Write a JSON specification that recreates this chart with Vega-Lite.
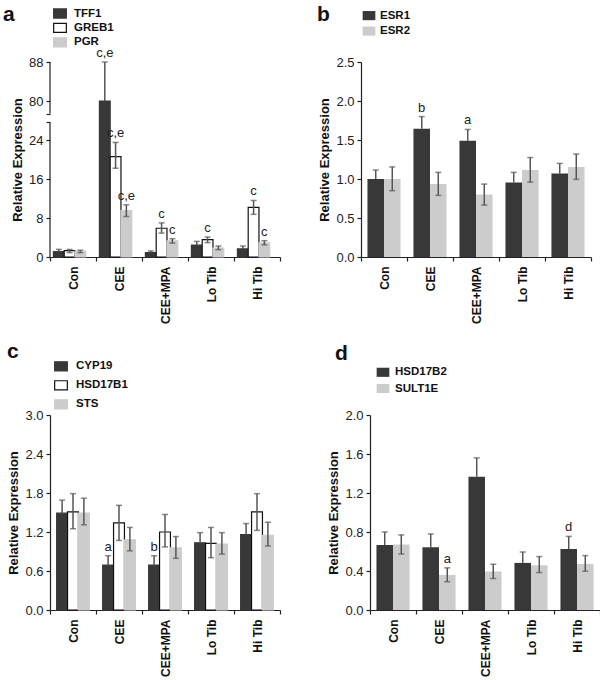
{
  "$schema": "https://vega.github.io/schema/vega-lite/v6.json",
  "padding": {"left": 3, "top": 4, "right": 0, "bottom": 0},
  "config": {
    "view": {"stroke": null},
    "font": "Liberation Sans",
    "axis": {"grid": false, "domainColor": "#222", "tickColor": "#222", "labelColor": "#222", "titleColor": "#111", "labelFont": "Liberation Sans", "titleFont": "Liberation Sans", "domainWidth": 1.2, "tickWidth": 1.2, "labelOverlap": false},
    "axisX": {"labelAngle": -90, "labelFontSize": 12, "labelFontWeight": "bold", "labelColor": "#111", "tickSize": 4, "labelPadding": 5},
    "axisY": {"labelFontSize": 13, "tickSize": 4, "labelPadding": 3, "titleFontSize": 13, "titleFontWeight": "bold", "titlePadding": 4, "labelOverlap": false, "title": "Relative Expression"},
    "legend": {"orient": "none", "symbolType": "M-1,-0.72H1V0.72H-1Z", "symbolSize": 161, "labelFontSize": 11.5, "labelFontWeight": "bold", "labelColor": "#111", "symbolStrokeWidth": 1.2, "labelFont": "Liberation Sans"}
  },
  "resolve": {
    "scale": {"x": "independent", "y": "independent", "xOffset": "independent", "fill": "independent", "stroke": "independent"},
    "axis": {"x": "independent", "y": "independent"},
    "legend": {"fill": "independent", "stroke": "independent"}
  },
  "vconcat": [
    {
      "spacing": 36,
      "resolve": {
        "scale": {"x": "independent", "y": "independent", "xOffset": "independent", "fill": "independent", "stroke": "independent"},
        "axis": {"x": "independent", "y": "independent"},
        "legend": {"fill": "independent", "stroke": "independent"}
      },
      "hconcat": [
        {
          "width": 230, "height": 195,
          "data": {"values": [
            {"group": "Con", "gene": "TFF1", "value": 1.1, "lo": 1.1, "hi": 1.57, "note": ""},
            {"group": "Con", "gene": "GREB1", "value": 1.3, "lo": 0.9, "hi": 1.55, "note": ""},
            {"group": "Con", "gene": "PGR", "value": 1.15, "lo": 0.9, "hi": 1.4, "note": ""},
            {"group": "CEE", "gene": "TFF1", "value": 80, "lo": 80, "hi": 88, "note": "c,e"},
            {"group": "CEE", "gene": "GREB1", "value": 20.6, "lo": 18.2, "hi": 23.5, "note": "c,e"},
            {"group": "CEE", "gene": "PGR", "value": 9.5, "lo": 8.3, "hi": 10.7, "note": "c,e"},
            {"group": "CEE+MPA", "gene": "TFF1", "value": 0.9, "lo": 0.9, "hi": 1.25, "note": ""},
            {"group": "CEE+MPA", "gene": "GREB1", "value": 5.9, "lo": 4.9, "hi": 7.0, "note": "c"},
            {"group": "CEE+MPA", "gene": "PGR", "value": 3.3, "lo": 2.85, "hi": 3.75, "note": "c"},
            {"group": "Lo Tib", "gene": "TFF1", "value": 2.45, "lo": 2.45, "hi": 3.2, "note": ""},
            {"group": "Lo Tib", "gene": "GREB1", "value": 3.55, "lo": 2.95, "hi": 4.1, "note": "c"},
            {"group": "Lo Tib", "gene": "PGR", "value": 1.85, "lo": 1.5, "hi": 2.25, "note": ""},
            {"group": "Hi Tib", "gene": "TFF1", "value": 1.65, "lo": 1.65, "hi": 2.25, "note": ""},
            {"group": "Hi Tib", "gene": "GREB1", "value": 10.2, "lo": 8.75, "hi": 11.6, "note": "c"},
            {"group": "Hi Tib", "gene": "PGR", "value": 2.9, "lo": 2.5, "hi": 3.35, "note": "c"}
          ]},
          "encoding": {
            "x": {"field": "group", "type": "nominal", "sort": ["Con", "CEE", "CEE+MPA", "Lo Tib", "Hi Tib"], "scale": {"paddingInner": 0, "paddingOuter": 0}, "axis": {"tickBand": "extent", "title": null}}
          },
          "layer": [
            {
              "mark": {"type": "bar", "strokeWidth": 1.2},
              "encoding": {
                "xOffset": {"field": "gene", "sort": ["TFF1", "GREB1", "PGR"], "scale": {"paddingInner": 0, "paddingOuter": 0.635, "align": 0.25}},
                "y": {"field": "value", "type": "quantitative", "title": "Relative Expression", "scale": {"domain": [0, 24, 80, 88], "range": [195, 78, 39, 0], "nice": false, "zero": false}, "axis": {"domain": false, "labelOverlap": false, "values": [0, 8, 16, 24, 49.2, 61.8, 80, 88], "labelExpr": "datum.value == 49.2 || datum.value == 61.8 ? '' : datum.label"}},
                "fill": {"field": "gene", "type": "nominal", "scale": {"domain": ["TFF1", "GREB1", "PGR"], "range": ["#383838", "#ffffff", "#cccccc"]}, "legend": {"title": null, "legendX": 3, "legendY": -55.5, "rowPadding": 0.4, "labelOffset": 7}},
                "stroke": {"field": "gene", "type": "nominal", "scale": {"domain": ["TFF1", "GREB1", "PGR"], "range": ["#383838", "#111111", "#cccccc"]}, "legend": {"title": null, "legendX": 3, "legendY": -55.5, "rowPadding": 0.4, "labelOffset": 7}}
              }
            },
            {
              "mark": {"type": "rule", "color": "#555", "strokeWidth": 1.5},
              "encoding": {
                "xOffset": {"field": "gene", "sort": ["TFF1", "GREB1", "PGR"]},
                "y": {"field": "hi", "type": "quantitative", "title": "Relative Expression", "axis": {"domain": false, "labelOverlap": false, "values": [0, 8, 16, 24, 49.2, 61.8, 80, 88], "labelExpr": "datum.value == 49.2 || datum.value == 61.8 ? '' : datum.label"}},
                "y2": {"field": "lo"}
              }
            },
            {
              "mark": {"type": "tick", "color": "#555", "thickness": 1.5, "size": 6},
              "encoding": {
                "xOffset": {"field": "gene", "sort": ["TFF1", "GREB1", "PGR"]},
                "y": {"field": "hi", "type": "quantitative", "title": "Relative Expression", "axis": {"domain": false, "labelOverlap": false, "values": [0, 8, 16, 24, 49.2, 61.8, 80, 88], "labelExpr": "datum.value == 49.2 || datum.value == 61.8 ? '' : datum.label"}}
              }
            },
            {
              "transform": [{"filter": "datum.lo < datum.value"}],
              "mark": {"type": "tick", "color": "#555", "thickness": 1.5, "size": 6},
              "encoding": {
                "xOffset": {"field": "gene", "sort": ["TFF1", "GREB1", "PGR"]},
                "y": {"field": "lo", "type": "quantitative", "title": "Relative Expression", "axis": {"domain": false, "labelOverlap": false, "values": [0, 8, 16, 24, 49.2, 61.8, 80, 88], "labelExpr": "datum.value == 49.2 || datum.value == 61.8 ? '' : datum.label"}}
              }
            },
            {
              "transform": [{"filter": "datum.note != ''"}],
              "mark": {"type": "text", "dy": -5, "baseline": "alphabetic", "fontSize": 13, "color": "#222"},
              "encoding": {
                "xOffset": {"field": "gene", "sort": ["TFF1", "GREB1", "PGR"]},
                "y": {"field": "hi", "type": "quantitative", "title": "Relative Expression", "axis": {"domain": false, "labelOverlap": false, "values": [0, 8, 16, 24, 49.2, 61.8, 80, 88], "labelExpr": "datum.value == 49.2 || datum.value == 61.8 ? '' : datum.label"}},
                "text": {"field": "note"}
              }
            },
            {
              "data": {"values": [{}]},
              "mark": {"type": "rule", "color": "#222", "strokeWidth": 1.2},
              "encoding": {
                "x": {"datum": "Con", "bandPosition": 0},
                "y": {"datum": 0, "type": "quantitative", "title": "Relative Expression", "axis": {"domain": false, "labelOverlap": false, "values": [0, 8, 16, 24, 49.2, 61.8, 80, 88], "labelExpr": "datum.value == 49.2 || datum.value == 61.8 ? '' : datum.label"}},
                "y2": {"datum": 49.2}
              }
            },
            {
              "data": {"values": [{}]},
              "mark": {"type": "rule", "color": "#222", "strokeWidth": 1.2},
              "encoding": {
                "x": {"datum": "Con", "bandPosition": 0},
                "y": {"datum": 61.8, "type": "quantitative", "title": "Relative Expression", "axis": {"domain": false, "labelOverlap": false, "values": [0, 8, 16, 24, 49.2, 61.8, 80, 88], "labelExpr": "datum.value == 49.2 || datum.value == 61.8 ? '' : datum.label"}},
                "y2": {"datum": 88}
              }
            },
            {
              "data": {"values": [{}]},
              "mark": {"type": "text", "text": "a", "fontSize": 21, "fontWeight": "bold", "align": "left", "baseline": "alphabetic", "dx": -47, "dy": -40.7, "color": "#111"},
              "encoding": {
                "x": {"datum": "Con", "bandPosition": 0},
                "y": {"datum": 88, "type": "quantitative", "title": "Relative Expression", "axis": {"domain": false, "labelOverlap": false, "values": [0, 8, 16, 24, 49.2, 61.8, 80, 88], "labelExpr": "datum.value == 49.2 || datum.value == 61.8 ? '' : datum.label"}}
              }
            }
          ]
        },
        {
          "width": 230, "height": 195,
          "data": {"values": [
            {"group": "Con", "gene": "ESR1", "value": 1.0, "lo": 1.0, "hi": 1.115, "note": ""},
            {"group": "Con", "gene": "ESR2", "value": 1.0, "lo": 0.85, "hi": 1.155, "note": ""},
            {"group": "CEE", "gene": "ESR1", "value": 1.645, "lo": 1.645, "hi": 1.8, "note": "b"},
            {"group": "CEE", "gene": "ESR2", "value": 0.935, "lo": 0.79, "hi": 1.085, "note": ""},
            {"group": "CEE+MPA", "gene": "ESR1", "value": 1.49, "lo": 1.49, "hi": 1.635, "note": "a"},
            {"group": "CEE+MPA", "gene": "ESR2", "value": 0.8, "lo": 0.665, "hi": 0.935, "note": ""},
            {"group": "Lo Tib", "gene": "ESR1", "value": 0.955, "lo": 0.955, "hi": 1.085, "note": ""},
            {"group": "Lo Tib", "gene": "ESR2", "value": 1.115, "lo": 0.96, "hi": 1.275, "note": ""},
            {"group": "Hi Tib", "gene": "ESR1", "value": 1.07, "lo": 1.07, "hi": 1.2, "note": ""},
            {"group": "Hi Tib", "gene": "ESR2", "value": 1.155, "lo": 0.995, "hi": 1.32, "note": ""}
          ]},
          "encoding": {
            "x": {"field": "group", "type": "nominal", "sort": ["Con", "CEE", "CEE+MPA", "Lo Tib", "Hi Tib"], "scale": {"paddingInner": 0, "paddingOuter": 0}, "axis": {"tickBand": "extent", "title": null}}
          },
          "layer": [
            {
              "mark": {"type": "bar"},
              "encoding": {
                "xOffset": {"field": "gene", "sort": ["ESR1", "ESR2"], "scale": {"paddingInner": 0, "paddingOuter": 0.39}},
                "y": {"field": "value", "type": "quantitative", "title": "Relative Expression", "scale": {"domain": [0, 2.5], "nice": false}, "axis": {"values": [0, 0.5, 1, 1.5, 2, 2.5], "format": ".1f", "labelOverlap": false}},
                "fill": {"field": "gene", "type": "nominal", "scale": {"domain": ["ESR1", "ESR2"], "range": ["#383838", "#cccccc"]}, "legend": {"title": null, "legendX": 1, "legendY": -53.4, "rowPadding": 2.5, "labelOffset": 4}}
              }
            },
            {
              "mark": {"type": "rule", "color": "#555", "strokeWidth": 1.5},
              "encoding": {
                "xOffset": {"field": "gene", "sort": ["ESR1", "ESR2"]},
                "y": {"field": "hi", "type": "quantitative", "title": "Relative Expression", "axis": {"values": [0, 0.5, 1, 1.5, 2, 2.5], "format": ".1f", "labelOverlap": false}},
                "y2": {"field": "lo"}
              }
            },
            {
              "mark": {"type": "tick", "color": "#555", "thickness": 1.5, "size": 6},
              "encoding": {
                "xOffset": {"field": "gene", "sort": ["ESR1", "ESR2"]},
                "y": {"field": "hi", "type": "quantitative", "title": "Relative Expression", "axis": {"values": [0, 0.5, 1, 1.5, 2, 2.5], "format": ".1f", "labelOverlap": false}}
              }
            },
            {
              "transform": [{"filter": "datum.lo < datum.value"}],
              "mark": {"type": "tick", "color": "#555", "thickness": 1.5, "size": 6},
              "encoding": {
                "xOffset": {"field": "gene", "sort": ["ESR1", "ESR2"]},
                "y": {"field": "lo", "type": "quantitative", "title": "Relative Expression", "axis": {"values": [0, 0.5, 1, 1.5, 2, 2.5], "format": ".1f", "labelOverlap": false}}
              }
            },
            {
              "transform": [{"filter": "datum.note != ''"}],
              "mark": {"type": "text", "dy": -5, "baseline": "alphabetic", "fontSize": 13, "color": "#222"},
              "encoding": {
                "xOffset": {"field": "gene", "sort": ["ESR1", "ESR2"]},
                "y": {"field": "hi", "type": "quantitative", "title": "Relative Expression", "axis": {"values": [0, 0.5, 1, 1.5, 2, 2.5], "format": ".1f", "labelOverlap": false}},
                "text": {"field": "note"}
              }
            },
            {
              "data": {"values": [{}]},
              "mark": {"type": "text", "text": "b", "fontSize": 21, "fontWeight": "bold", "align": "left", "baseline": "alphabetic", "dx": -44, "dy": -41, "color": "#111"},
              "encoding": {
                "x": {"datum": "Con", "bandPosition": 0},
                "y": {"datum": 2.5, "type": "quantitative", "title": "Relative Expression", "axis": {"values": [0, 0.5, 1, 1.5, 2, 2.5], "format": ".1f", "labelOverlap": false}}
              }
            }
          ]
        }
      ]
    },
    {
      "spacing": 46,
      "resolve": {
        "scale": {"x": "independent", "y": "independent", "xOffset": "independent", "fill": "independent", "stroke": "independent"},
        "axis": {"x": "independent", "y": "independent"},
        "legend": {"fill": "independent", "stroke": "independent"}
      },
      "hconcat": [
        {
          "width": 230, "height": 195,
          "data": {"values": [
            {"group": "Con", "gene": "CYP19", "value": 1.49, "lo": 1.49, "hi": 1.69, "note": ""},
            {"group": "Con", "gene": "HSD17B1", "value": 1.51, "lo": 1.25, "hi": 1.79, "note": ""},
            {"group": "Con", "gene": "STS", "value": 1.49, "lo": 1.31, "hi": 1.72, "note": ""},
            {"group": "CEE", "gene": "CYP19", "value": 0.69, "lo": 0.69, "hi": 0.835, "note": "a"},
            {"group": "CEE", "gene": "HSD17B1", "value": 1.34, "lo": 1.07, "hi": 1.61, "note": ""},
            {"group": "CEE", "gene": "STS", "value": 1.08, "lo": 0.91, "hi": 1.27, "note": ""},
            {"group": "CEE+MPA", "gene": "CYP19", "value": 0.69, "lo": 0.69, "hi": 0.835, "note": "b"},
            {"group": "CEE+MPA", "gene": "HSD17B1", "value": 1.2, "lo": 0.97, "hi": 1.47, "note": ""},
            {"group": "CEE+MPA", "gene": "STS", "value": 0.955, "lo": 0.795, "hi": 1.13, "note": ""},
            {"group": "Lo Tib", "gene": "CYP19", "value": 1.035, "lo": 1.035, "hi": 1.19, "note": ""},
            {"group": "Lo Tib", "gene": "HSD17B1", "value": 1.025, "lo": 0.805, "hi": 1.27, "note": ""},
            {"group": "Lo Tib", "gene": "STS", "value": 1.015, "lo": 0.86, "hi": 1.19, "note": ""},
            {"group": "Hi Tib", "gene": "CYP19", "value": 1.16, "lo": 1.16, "hi": 1.33, "note": ""},
            {"group": "Hi Tib", "gene": "HSD17B1", "value": 1.51, "lo": 1.225, "hi": 1.79, "note": ""},
            {"group": "Hi Tib", "gene": "STS", "value": 1.15, "lo": 0.985, "hi": 1.35, "note": ""}
          ]},
          "encoding": {
            "x": {"field": "group", "type": "nominal", "sort": ["Con", "CEE", "CEE+MPA", "Lo Tib", "Hi Tib"], "scale": {"paddingInner": 0, "paddingOuter": 0}, "axis": {"tickBand": "extent", "title": null}}
          },
          "layer": [
            {
              "mark": {"type": "bar", "strokeWidth": 1.2},
              "encoding": {
                "xOffset": {"field": "gene", "sort": ["CYP19", "HSD17B1", "STS"], "scale": {"paddingInner": 0, "paddingOuter": 0.61}},
                "y": {"field": "value", "type": "quantitative", "title": "Relative Expression", "scale": {"domain": [0, 3], "nice": false}, "axis": {"values": [0, 0.6, 1.2, 1.8, 2.4, 3.0], "format": ".1f", "labelOverlap": false}},
                "fill": {"field": "gene", "type": "nominal", "scale": {"domain": ["CYP19", "HSD17B1", "STS"], "range": ["#383838", "#ffffff", "#cccccc"]}, "legend": {"title": null, "legendX": 4, "legendY": -55.7, "rowPadding": 5, "labelOffset": 8}},
                "stroke": {"field": "gene", "type": "nominal", "scale": {"domain": ["CYP19", "HSD17B1", "STS"], "range": ["#383838", "#111111", "#cccccc"]}, "legend": {"title": null, "legendX": 4, "legendY": -55.7, "rowPadding": 5, "labelOffset": 8}}
              }
            },
            {
              "mark": {"type": "rule", "color": "#555", "strokeWidth": 1.5},
              "encoding": {
                "xOffset": {"field": "gene", "sort": ["CYP19", "HSD17B1", "STS"]},
                "y": {"field": "hi", "type": "quantitative", "title": "Relative Expression", "axis": {"values": [0, 0.6, 1.2, 1.8, 2.4, 3.0], "format": ".1f", "labelOverlap": false}},
                "y2": {"field": "lo"}
              }
            },
            {
              "mark": {"type": "tick", "color": "#555", "thickness": 1.5, "size": 6},
              "encoding": {
                "xOffset": {"field": "gene", "sort": ["CYP19", "HSD17B1", "STS"]},
                "y": {"field": "hi", "type": "quantitative", "title": "Relative Expression", "axis": {"values": [0, 0.6, 1.2, 1.8, 2.4, 3.0], "format": ".1f", "labelOverlap": false}}
              }
            },
            {
              "transform": [{"filter": "datum.lo < datum.value"}],
              "mark": {"type": "tick", "color": "#555", "thickness": 1.5, "size": 6},
              "encoding": {
                "xOffset": {"field": "gene", "sort": ["CYP19", "HSD17B1", "STS"]},
                "y": {"field": "lo", "type": "quantitative", "title": "Relative Expression", "axis": {"values": [0, 0.6, 1.2, 1.8, 2.4, 3.0], "format": ".1f", "labelOverlap": false}}
              }
            },
            {
              "transform": [{"filter": "datum.note != ''"}],
              "mark": {"type": "text", "dy": -5, "baseline": "alphabetic", "fontSize": 13, "color": "#222"},
              "encoding": {
                "xOffset": {"field": "gene", "sort": ["CYP19", "HSD17B1", "STS"]},
                "y": {"field": "hi", "type": "quantitative", "title": "Relative Expression", "axis": {"values": [0, 0.6, 1.2, 1.8, 2.4, 3.0], "format": ".1f", "labelOverlap": false}},
                "text": {"field": "note"}
              }
            },
            {
              "data": {"values": [{}]},
              "mark": {"type": "text", "text": "c", "fontSize": 21, "fontWeight": "bold", "align": "left", "baseline": "alphabetic", "dx": -43, "dy": -57, "color": "#111"},
              "encoding": {
                "x": {"datum": "Con", "bandPosition": 0},
                "y": {"datum": 3, "type": "quantitative", "title": "Relative Expression", "axis": {"values": [0, 0.6, 1.2, 1.8, 2.4, 3.0], "format": ".1f", "labelOverlap": false}}
              }
            }
          ]
        },
        {
          "width": 230, "height": 195,
          "data": {"values": [
            {"group": "Con", "gene": "HSD17B2", "value": 0.667, "lo": 0.667, "hi": 0.8, "note": ""},
            {"group": "Con", "gene": "SULT1E", "value": 0.673, "lo": 0.575, "hi": 0.77, "note": ""},
            {"group": "CEE", "gene": "HSD17B2", "value": 0.643, "lo": 0.643, "hi": 0.78, "note": ""},
            {"group": "CEE", "gene": "SULT1E", "value": 0.36, "lo": 0.29, "hi": 0.432, "note": "a"},
            {"group": "CEE+MPA", "gene": "HSD17B2", "value": 1.367, "lo": 1.367, "hi": 1.56, "note": ""},
            {"group": "CEE+MPA", "gene": "SULT1E", "value": 0.395, "lo": 0.323, "hi": 0.469, "note": ""},
            {"group": "Lo Tib", "gene": "HSD17B2", "value": 0.483, "lo": 0.483, "hi": 0.595, "note": ""},
            {"group": "Lo Tib", "gene": "SULT1E", "value": 0.459, "lo": 0.384, "hi": 0.548, "note": ""},
            {"group": "Hi Tib", "gene": "HSD17B2", "value": 0.626, "lo": 0.626, "hi": 0.755, "note": "d"},
            {"group": "Hi Tib", "gene": "SULT1E", "value": 0.473, "lo": 0.398, "hi": 0.558, "note": ""}
          ]},
          "encoding": {
            "x": {"field": "group", "type": "nominal", "sort": ["Con", "CEE", "CEE+MPA", "Lo Tib", "Hi Tib"], "scale": {"paddingInner": 0, "paddingOuter": 0}, "axis": {"tickBand": "extent", "title": null}}
          },
          "layer": [
            {
              "mark": {"type": "bar"},
              "encoding": {
                "xOffset": {"field": "gene", "sort": ["HSD17B2", "SULT1E"], "scale": {"paddingInner": 0, "paddingOuter": 0.39}},
                "y": {"field": "value", "type": "quantitative", "title": "Relative Expression", "scale": {"domain": [0, 2], "nice": false}, "axis": {"values": [0, 0.4, 0.8, 1.2, 1.6, 2.0], "format": ".1f", "labelOverlap": false}},
                "fill": {"field": "gene", "type": "nominal", "scale": {"domain": ["HSD17B2", "SULT1E"], "range": ["#383838", "#cccccc"]}, "legend": {"title": null, "legendX": 6, "legendY": -49.7, "rowPadding": 3.2, "labelOffset": 5}}
              }
            },
            {
              "mark": {"type": "rule", "color": "#555", "strokeWidth": 1.5},
              "encoding": {
                "xOffset": {"field": "gene", "sort": ["HSD17B2", "SULT1E"]},
                "y": {"field": "hi", "type": "quantitative", "title": "Relative Expression", "axis": {"values": [0, 0.4, 0.8, 1.2, 1.6, 2.0], "format": ".1f", "labelOverlap": false}},
                "y2": {"field": "lo"}
              }
            },
            {
              "mark": {"type": "tick", "color": "#555", "thickness": 1.5, "size": 6},
              "encoding": {
                "xOffset": {"field": "gene", "sort": ["HSD17B2", "SULT1E"]},
                "y": {"field": "hi", "type": "quantitative", "title": "Relative Expression", "axis": {"values": [0, 0.4, 0.8, 1.2, 1.6, 2.0], "format": ".1f", "labelOverlap": false}}
              }
            },
            {
              "transform": [{"filter": "datum.lo < datum.value"}],
              "mark": {"type": "tick", "color": "#555", "thickness": 1.5, "size": 6},
              "encoding": {
                "xOffset": {"field": "gene", "sort": ["HSD17B2", "SULT1E"]},
                "y": {"field": "lo", "type": "quantitative", "title": "Relative Expression", "axis": {"values": [0, 0.4, 0.8, 1.2, 1.6, 2.0], "format": ".1f", "labelOverlap": false}}
              }
            },
            {
              "transform": [{"filter": "datum.note != ''"}],
              "mark": {"type": "text", "dy": -5, "baseline": "alphabetic", "fontSize": 13, "color": "#222"},
              "encoding": {
                "xOffset": {"field": "gene", "sort": ["HSD17B2", "SULT1E"]},
                "y": {"field": "hi", "type": "quantitative", "title": "Relative Expression", "axis": {"values": [0, 0.4, 0.8, 1.2, 1.6, 2.0], "format": ".1f", "labelOverlap": false}},
                "text": {"field": "note"}
              }
            },
            {
              "data": {"values": [{}]},
              "mark": {"type": "text", "text": "d", "fontSize": 21, "fontWeight": "bold", "align": "left", "baseline": "alphabetic", "dx": -35, "dy": -55, "color": "#111"},
              "encoding": {
                "x": {"datum": "Con", "bandPosition": 0},
                "y": {"datum": 2, "type": "quantitative", "title": "Relative Expression", "axis": {"values": [0, 0.4, 0.8, 1.2, 1.6, 2.0], "format": ".1f", "labelOverlap": false}}
              }
            }
          ]
        }
      ]
    }
  ],
  "spacing": 17
}
